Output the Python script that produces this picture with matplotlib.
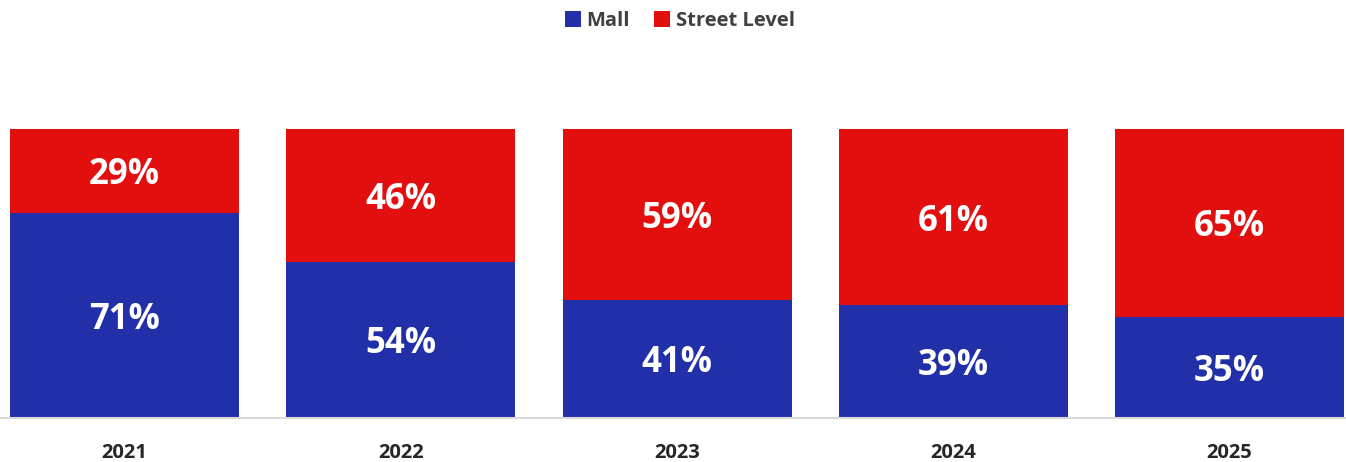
import matplotlib.pyplot as plt
import numpy as np

years = ["2021", "2022", "2023", "2024", "2025"]
mall = [71, 54, 41, 39, 35]
street = [29, 46, 59, 61, 65]

blue = "#2130A8"
red = "#E30E0E"

plt.rcParams['font.family'] = ['Open Sans', 'DejaVu Sans']

fig = plt.figure(figsize=(13.46, 4.62), dpi=100)
ax = fig.add_axes([0, 44 / 462, 1, 289 / 462])

x = np.arange(len(years))
m = np.array(mall) / 100
s = np.array(street) / 100
w = 0.829
ax.bar(x, m, w, color=blue, label="Mall")
ax.bar(x, s, w, bottom=m, color=red, label="Street Level")

# value labels in the middle of each segment
for i in range(len(years)):
    ax.text(x[i], m[i] / 2, f"{mall[i]}%", ha="center", va="center_baseline",
            color="white", fontsize=25, fontweight="bold")
    ax.text(x[i], m[i] + s[i] / 2, f"{street[i]}%", ha="center",
            va="center_baseline", color="white", fontsize=25, fontweight="bold")

ax.set_xlim(-0.4507, 4.4217)
ax.set_ylim(0, 1)
ax.set_yticks([])
ax.set_xticks(x)
ax.set_xticklabels(years, fontsize=14.5, fontweight="bold", color="#262626")
ax.tick_params(axis="x", length=0, pad=18)
for side in ["top", "left", "right"]:
    ax.spines[side].set_visible(False)
ax.spines["bottom"].set_color("#D9D9D9")
ax.spines["bottom"].set_linewidth(1.5)

leg = fig.legend(loc="center", bbox_to_anchor=(680 / 1346, 1 - 21 / 462), ncol=2,
                 frameon=False, handlelength=0.8, handleheight=0.8,
                 handletextpad=0.3, columnspacing=1.2,
                 prop={"size": 14.5, "weight": "bold"})
for t in leg.get_texts():
    t.set_color("#404040")

fig.savefig("out.png", dpi=100)
